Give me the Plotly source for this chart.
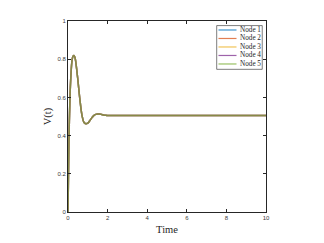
import plotly.graph_objects as go

time = [0, 0.025, 0.05, 0.1, 0.15, 0.2, 0.25, 0.3, 0.35, 0.4, 0.5, 0.6, 0.7, 0.8, 0.9,
        1.0, 1.1, 1.2, 1.3, 1.4, 1.5, 1.6, 1.7, 1.8, 1.9, 2.0, 3, 4, 5, 6, 7, 8, 9, 10]
v_node = [0, 0.2, 0.38, 0.6, 0.72, 0.79, 0.815, 0.82, 0.81, 0.78, 0.69, 0.59, 0.51, 0.47, 0.462,
          0.465, 0.478, 0.493, 0.505, 0.511, 0.513, 0.513, 0.511, 0.508, 0.506, 0.505,
          0.505, 0.505, 0.505, 0.505, 0.505, 0.505, 0.505, 0.505]
node_names = ["Node 1", "Node 2", "Node 3", "Node 4", "Node 5"]
node_values = [v_node, v_node, v_node, v_node, v_node]
colors = ["#0072BD", "#D95319", "#EDB120", "#7E2F8E", "#77AC30"]
x_ticks = [0, 2, 4, 6, 8, 10]
y_ticks = [0, 0.2, 0.4, 0.6, 0.8, 1]

fig = go.Figure()
for name, vals, c in zip(node_names, node_values, colors):
    fig.add_trace(go.Scatter(x=time, y=vals, mode="lines", name=name, showlegend=False,
                             line=dict(color=c, width=1.5, shape="spline"), opacity=0.6))

# legend box drawn in paper coordinates (MATLAB-style compact legend)
fig.add_shape(type="rect", xref="paper", yref="paper", x0=0.751, x1=0.981, y0=0.747, y1=0.976,
              line=dict(color="#262626", width=0.6), fillcolor="white", layer="above")
row0, dy = 0.953, 0.0445
for i, (name, c) in enumerate(zip(node_names, colors)):
    yy = row0 - i * dy
    fig.add_shape(type="line", xref="paper", yref="paper", x0=0.760, x1=0.851, y0=yy, y1=yy,
                  line=dict(color=c, width=1.2), opacity=0.75, layer="above")
    fig.add_annotation(xref="paper", yref="paper", x=0.857, y=yy, text=name, showarrow=False,
                       xanchor="left", yanchor="middle",
                       font=dict(family="Liberation Serif", size=7.2, color="#262626"))

axis_common = dict(showline=True, linecolor="#262626", linewidth=0.8, mirror="allticks",
                   ticks="inside", ticklen=3, tickcolor="#262626", showgrid=False,
                   zeroline=False, tickfont=dict(family="Liberation Sans", size=6, color="#404040"))
fig.update_layout(
    width=316, height=235,
    margin=dict(l=60, r=58, t=10, b=27),
    paper_bgcolor="white", plot_bgcolor="white",
    xaxis=dict(range=[0, 10], tickvals=x_ticks, ticktext=[str(t) for t in x_ticks],
               title=dict(text="Time", font=dict(family="Liberation Serif", size=10.5, color="#262626"), standoff=5),
               **axis_common),
    yaxis=dict(range=[0, 1], tickvals=y_ticks, ticktext=["0", "0.2", "0.4", "0.6", "0.8", "1"],
               title=dict(text="V(t)", font=dict(family="Liberation Serif", size=10.5, color="#262626"), standoff=3),
               **axis_common),
    showlegend=False,
)
fig.write_html("out.html")
